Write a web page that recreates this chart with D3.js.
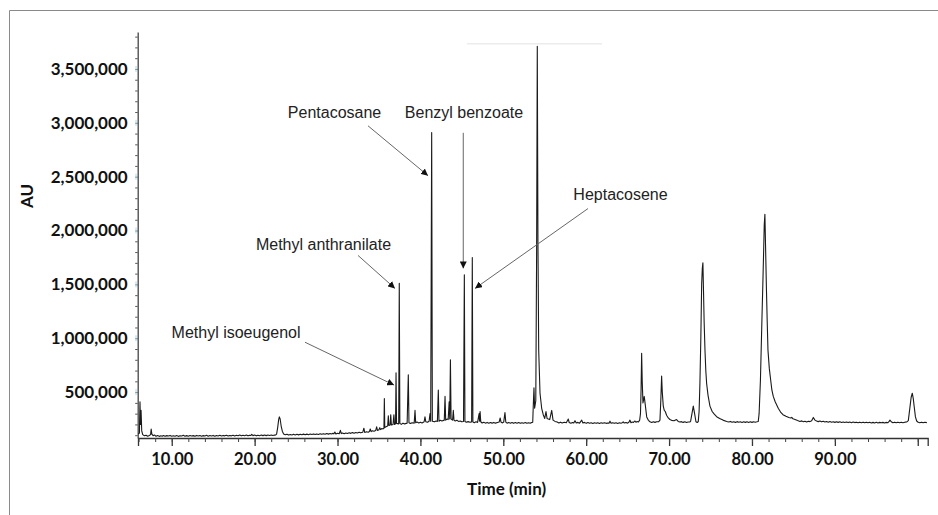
<!DOCTYPE html>
<html>
<head>
<meta charset="utf-8">
<script src="https://d3js.org/d3.v7.min.js"></script>
<style>
  body { margin: 0; background: #fff; }
  svg { display: block; }
</style>
</head>
<body>
<script>
// chromatogram trace: [time (min), AU]
var trace = [
  [5.95, 110000], [6.1, 120000], [6.17, 410000], [6.23, 200000], [6.3, 330000], [6.38, 140000],
  [6.5, 105000], [6.7, 95000], [6.9, 100000], [7.1, 91000], [7.3, 97000], [7.45, 105000],
  [7.52, 158000], [7.6, 110000], [7.75, 96000], [7.95, 101000], [8.1, 90000], [8.3, 97000],
  [8.5, 89000], [8.7, 95000], [8.85, 91000], [9.0, 97000], [9.2, 90000], [9.4, 96000],
  [9.6, 92000], [9.8, 98000], [10.0, 90000], [10.2, 95000], [10.4, 91000], [10.6, 97000],
  [10.8, 89000], [11.0, 95000], [11.2, 92000], [11.4, 99000], [11.6, 91000], [11.8, 96000],
  [12.0, 90000], [12.2, 97000], [12.4, 92000], [12.6, 96000], [12.8, 90000], [13.0, 98000],
  [13.2, 92000], [13.4, 97000], [13.6, 91000], [13.8, 96000], [14.0, 93000], [14.2, 99000],
  [14.4, 91000], [14.6, 97000], [14.8, 92000], [15.0, 98000], [15.2, 91000], [15.4, 97000],
  [15.6, 93000], [15.8, 99000], [16.0, 92000], [16.2, 98000], [16.4, 94000], [16.6, 100000],
  [16.8, 92000], [17.0, 98000], [17.2, 94000], [17.4, 100000], [17.6, 93000], [17.8, 99000],
  [18.0, 95000], [18.2, 101000], [18.4, 94000], [18.6, 99000], [18.8, 95000], [19.0, 101000],
  [19.2, 94000], [19.4, 100000], [19.55, 97000], [19.65, 108000], [19.8, 96000], [20.0, 101000],
  [20.2, 94000], [20.4, 100000], [20.6, 95000], [20.8, 101000], [21.0, 96000], [21.2, 102000],
  [21.4, 96000], [21.6, 101000], [21.8, 97000], [22.0, 102000], [22.2, 97000], [22.4, 101000],
  [22.55, 103000], [22.65, 110000], [22.78, 170000], [22.9, 245000], [22.98, 270000], [23.08, 250000],
  [23.2, 185000], [23.35, 135000], [23.5, 112000], [23.7, 104000], [23.9, 109000], [24.1, 101000],
  [24.3, 107000], [24.5, 102000], [24.7, 108000], [24.9, 102000], [25.1, 108000], [25.3, 103000],
  [25.5, 109000], [25.7, 104000], [25.9, 110000], [26.1, 104000], [26.3, 110000], [26.5, 105000],
  [26.7, 111000], [26.9, 106000], [27.1, 112000], [27.3, 106000], [27.5, 112000], [27.7, 107000],
  [27.9, 113000], [28.1, 108000], [28.3, 114000], [28.5, 109000], [28.7, 116000], [28.9, 110000],
  [29.1, 116000], [29.3, 111000], [29.45, 118000], [29.55, 112000], [29.68, 130000], [29.8, 112000],
  [30.0, 118000], [30.2, 113000], [30.35, 145000], [30.45, 115000], [30.6, 120000], [30.8, 114000],
  [31.0, 121000], [31.2, 116000], [31.4, 122000], [31.6, 117000], [31.8, 124000], [32.0, 118000],
  [32.2, 125000], [32.4, 120000], [32.6, 127000], [32.8, 122000], [33.05, 128000], [33.18, 165000],
  [33.28, 126000], [33.5, 132000], [33.7, 128000], [33.85, 135000], [33.95, 158000], [34.05, 133000],
  [34.2, 141000], [34.4, 136000], [34.6, 143000], [34.72, 178000], [34.82, 144000], [35.0, 150000],
  [35.1, 170000], [35.2, 152000], [35.35, 162000], [35.5, 158000], [35.6, 165000], [35.65, 440000],
  [35.7, 170000], [35.9, 180000], [36.05, 185000], [36.13, 280000], [36.2, 190000], [36.35, 195000],
  [36.42, 290000], [36.5, 195000], [36.7, 200000], [36.8, 290000], [36.88, 200000], [37.0, 205000],
  [37.06, 680000], [37.12, 210000], [37.38, 205000], [37.45, 1510000], [37.52, 210000], [37.7, 200000],
  [37.9, 212000], [38.1, 205000], [38.4, 212000], [38.54, 660000], [38.62, 215000], [38.8, 208000],
  [39.0, 216000], [39.25, 212000], [39.35, 330000], [39.43, 215000], [39.6, 222000], [39.8, 214000],
  [40.0, 220000], [40.2, 214000], [40.45, 225000], [40.55, 270000], [40.65, 225000], [40.85, 220000],
  [41.05, 230000], [41.16, 300000], [41.24, 230000], [41.36, 2910000], [41.44, 230000], [41.7, 224000],
  [41.9, 232000], [42.05, 228000], [42.16, 520000], [42.24, 230000], [42.4, 238000], [42.6, 232000],
  [42.88, 240000], [42.97, 460000], [43.05, 240000], [43.2, 250000], [43.35, 245000], [43.47, 410000],
  [43.54, 250000], [43.62, 800000], [43.7, 250000], [43.88, 240000], [43.97, 330000], [44.05, 240000],
  [44.2, 232000], [44.4, 238000], [44.6, 228000], [44.8, 232000], [45.0, 224000], [45.2, 228000],
  [45.3, 1590000], [45.37, 228000], [45.55, 220000], [45.75, 226000], [46.0, 221000], [46.18, 224000],
  [46.26, 1750000], [46.33, 222000], [46.5, 216000], [46.7, 224000], [46.9, 219000], [47.08, 300000],
  [47.14, 230000], [47.2, 320000], [47.28, 225000], [47.45, 213000], [47.65, 220000], [47.85, 212000],
  [48.05, 219000], [48.25, 211000], [48.45, 218000], [48.65, 212000], [48.85, 219000], [49.05, 212000],
  [49.3, 218000], [49.5, 222000], [49.62, 260000], [49.72, 222000], [49.9, 214000], [50.05, 222000],
  [50.2, 310000], [50.3, 222000], [50.45, 212000], [50.65, 219000], [50.85, 211000], [51.05, 218000],
  [51.25, 210000], [51.45, 217000], [51.65, 211000], [51.85, 218000], [52.05, 210000], [52.25, 216000],
  [52.45, 211000], [52.65, 217000], [52.85, 210000], [53.05, 216000], [53.25, 211000], [53.4, 217000],
  [53.55, 220000], [53.62, 380000], [53.7, 540000], [53.78, 350000], [53.92, 420000], [54.02, 1800000],
  [54.1, 3710000], [54.18, 1900000], [54.27, 890000], [54.43, 490000], [54.63, 350000], [54.82, 290000],
  [55.0, 255000], [55.15, 320000], [55.28, 255000], [55.43, 250000], [55.6, 245000], [55.84, 330000],
  [56.0, 240000], [56.24, 228000], [56.5, 222000], [56.7, 214000], [56.9, 221000], [57.1, 213000],
  [57.35, 220000], [57.6, 216000], [57.84, 250000], [57.95, 218000], [58.15, 211000], [58.35, 218000],
  [58.5, 213000], [58.65, 235000], [58.8, 214000], [59.0, 219000], [59.2, 212000], [59.46, 240000],
  [59.6, 214000], [59.8, 219000], [60.0, 210000], [60.2, 217000], [60.4, 211000], [60.6, 216000],
  [60.8, 209000], [61.0, 215000], [61.2, 210000], [61.4, 216000], [61.6, 209000], [61.8, 215000],
  [62.0, 210000], [62.2, 216000], [62.4, 210000], [62.6, 214000], [62.75, 212000], [62.87, 230000],
  [63.0, 211000], [63.2, 216000], [63.4, 210000], [63.6, 215000], [63.8, 209000], [64.0, 215000],
  [64.2, 211000], [64.35, 216000], [64.47, 224000], [64.6, 213000], [64.8, 218000], [65.0, 212000],
  [65.15, 220000], [65.28, 240000], [65.4, 216000], [65.55, 222000], [65.7, 218000], [65.88, 232000],
  [66.0, 220000], [66.15, 227000], [66.3, 222000], [66.45, 240000], [66.55, 300000], [66.62, 520000],
  [66.69, 860000], [66.76, 600000], [66.85, 400000], [66.93, 430000], [67.0, 460000], [67.1, 400000],
  [67.3, 270000], [67.5, 238000], [67.7, 225000], [67.9, 218000], [68.1, 225000], [68.3, 219000],
  [68.5, 225000], [68.75, 226000], [68.9, 240000], [69.0, 420000], [69.1, 650000], [69.18, 500000],
  [69.3, 370000], [69.42, 330000], [69.54, 320000], [69.7, 285000], [69.9, 260000], [70.1, 246000],
  [70.3, 238000], [70.6, 234000], [70.9, 245000], [71.1, 228000], [71.3, 222000], [71.5, 226000],
  [71.7, 219000], [71.9, 225000], [72.1, 218000], [72.3, 223000], [72.5, 222000], [72.6, 230000],
  [72.76, 300000], [72.92, 370000], [73.08, 300000], [73.24, 225000], [73.4, 218000], [73.52, 226000],
  [73.62, 320000], [73.72, 580000], [73.83, 1000000], [73.93, 1500000], [74.01, 1650000], [74.08, 1700000],
  [74.15, 1450000], [74.23, 1150000], [74.33, 890000], [74.43, 700000], [74.53, 580000], [74.7, 470000],
  [74.93, 370000], [75.2, 320000], [75.45, 295000], [75.74, 272000], [76.1, 255000], [76.5, 240000],
  [76.95, 228000], [77.2, 222000], [77.4, 228000], [77.6, 220000], [77.8, 225000], [78.0, 219000],
  [78.2, 226000], [78.4, 220000], [78.6, 224000], [78.8, 218000], [79.0, 225000], [79.2, 219000],
  [79.4, 224000], [79.6, 218000], [79.8, 224000], [80.0, 219000], [80.2, 225000], [80.4, 220000],
  [80.6, 224000], [80.76, 228000], [80.86, 300000], [81.02, 610000], [81.2, 1170000], [81.31, 1500000],
  [81.38, 1720000], [81.48, 2050000], [81.56, 2150000], [81.64, 1850000], [81.75, 1440000], [81.84, 1150000],
  [81.93, 890000], [82.09, 720000], [82.26, 610000], [82.4, 520000], [82.57, 460000], [82.8, 410000],
  [83.17, 350000], [83.45, 315000], [83.74, 290000], [84.1, 275000], [84.45, 265000], [84.7, 260000],
  [84.8, 266000], [84.95, 252000], [85.2, 245000], [85.5, 236000], [85.79, 228000], [86.0, 233000],
  [86.2, 225000], [86.4, 230000], [86.6, 223000], [86.8, 229000], [87.0, 226000], [87.2, 235000],
  [87.4, 265000], [87.6, 240000], [87.8, 232000], [88.0, 226000], [88.2, 231000], [88.4, 224000],
  [88.6, 229000], [88.8, 222000], [89.0, 227000], [89.2, 221000], [89.4, 227000], [89.6, 220000],
  [89.8, 225000], [90.0, 219000], [90.2, 225000], [90.4, 219000], [90.6, 224000], [90.8, 218000],
  [91.0, 223000], [91.2, 218000], [91.4, 223000], [91.6, 217000], [91.8, 222000], [92.0, 216000],
  [92.2, 222000], [92.4, 217000], [92.6, 221000], [92.8, 215000], [93.0, 221000], [93.2, 216000],
  [93.4, 221000], [93.6, 215000], [93.8, 220000], [94.0, 215000], [94.2, 220000], [94.4, 214000],
  [94.6, 219000], [94.8, 214000], [95.0, 220000], [95.2, 214000], [95.4, 219000], [95.6, 215000],
  [95.8, 219000], [96.0, 214000], [96.2, 219000], [96.4, 216000], [96.55, 228000], [96.65, 240000],
  [96.8, 225000], [97.0, 216000], [97.2, 221000], [97.4, 215000], [97.6, 220000], [97.8, 215000],
  [98.0, 220000], [98.2, 216000], [98.45, 221000], [98.65, 222000], [98.86, 235000], [99.06, 360000],
  [99.2, 450000], [99.34, 490000], [99.46, 440000], [99.58, 360000], [99.72, 270000], [99.87, 232000],
  [100.05, 220000], [100.25, 216000], [100.45, 221000], [100.65, 215000], [100.85, 220000], [101.1, 217000]
];

// axis ticks
var xMajor = [10, 20, 30, 40, 50, 60, 70, 80, 90, 100];
var xLabels = ["10.00", "20.00", "30.00", "40.00", "50.00", "60.00", "70.00", "80.00", "90.00", ""];
var xMinor = d3.range(6, 101, 2);
var yMajor = [500000, 1000000, 1500000, 2000000, 2500000, 3000000, 3500000];
var yMinor = d3.range(100000, 3850000, 100000);

// compound labels: text anchor and arrow (from -> to), in data units
var compounds = [
  { name: "Pentacosane",         tx: 29.64, ty: 3040000, from: [33.68, 2972000], to: [40.92, 2509000] },
  { name: "Benzyl benzoate",     tx: 45.26, ty: 3040000, from: [45.17, 2907000], to: [45.17, 1648000] },
  { name: "Heptacosene",         tx: 64.14, ty: 2280000, from: [60.22, 2204000], to: [46.59, 1463000] },
  { name: "Methyl anthranilate", tx: 28.31, ty: 1820000, from: [32.47, 1769000], to: [36.93, 1463000] },
  { name: "Methyl isoeugenol",   tx: 17.76, ty: 1000000, from: [26.08, 963000],  to: [36.82, 565000] }
];

var width = 938, height = 515;

var x = d3.scaleLinear().domain([5.93, 101.2]).range([138, 927.7]);
var y = d3.scaleLinear().domain([74000, 3843000]).range([438, 32]);

var svg = d3.select("body").append("svg")
    .attr("width", width)
    .attr("height", height);

// outer frame (top and left edges visible)
svg.append("path")
    .attr("d", "M9.5,515V10.5H938")
    .attr("fill", "none")
    .attr("stroke", "#8a8a8a")
    .attr("stroke-width", 1);

// faint line near top of the big peak
svg.append("line")
    .attr("x1", x(45.6)).attr("x2", x(61.9))
    .attr("y1", y(3734000)).attr("y2", y(3734000))
    .attr("stroke", "#ececec")
    .attr("stroke-width", 1.5);

svg.append("defs").append("marker")
    .attr("id", "arrow")
    .attr("viewBox", "0 0 10 10")
    .attr("refX", 10).attr("refY", 5)
    .attr("markerWidth", 7).attr("markerHeight", 7)
    .attr("markerUnits", "userSpaceOnUse")
    .attr("orient", "auto")
    .append("path")
    .attr("d", "M0,0L10,5L0,10Z")
    .attr("fill", "#111");

// x axis
var xAxis = svg.append("g")
    .attr("transform", "translate(0,438)")
    .call(d3.axisBottom(x).tickValues(xMajor).tickSize(8).tickPadding(7)
        .tickFormat(function(d, i) { return xLabels[i]; }));
xAxis.select(".domain").attr("stroke", "#333").attr("stroke-width", 1.3);
xAxis.selectAll(".tick line").attr("stroke", "#333").attr("stroke-width", 1.3);
xAxis.selectAll("text")
    .attr("fill", "#111")
    .style("font-family", "Lato, 'Open Sans', sans-serif")
    .style("font-weight", "bold")
    .style("font-size", "16.5px");

var xMinorAxis = svg.append("g")
    .attr("transform", "translate(0,438)")
    .call(d3.axisBottom(x).tickValues(xMinor).tickSize(4).tickFormat(""));
xMinorAxis.select(".domain").remove();
xMinorAxis.selectAll(".tick line").attr("stroke", "#444");

// y axis
var yAxis = svg.append("g")
    .attr("transform", "translate(137.7,0)")
    .call(d3.axisLeft(y).tickValues(yMajor).tickSize(0).tickPadding(10)
        .tickFormat(d3.format(",")));
yAxis.select(".domain").attr("stroke", "#444").attr("stroke-width", 1.3);
yAxis.selectAll("text")
    .attr("fill", "#111")
    .style("font-family", "Lato, 'Open Sans', sans-serif")
    .style("font-weight", "bold")
    .style("font-size", "17px");

var yMinorAxis = svg.append("g")
    .attr("transform", "translate(137.7,0)")
    .call(d3.axisLeft(y).tickValues(yMinor).tickSize(2.5).tickFormat(""));
yMinorAxis.select(".domain").remove();
yMinorAxis.selectAll(".tick line").attr("stroke", "#555");

// small light blue marks at the labelled ticks
svg.append("g").selectAll("line")
    .data(yMajor)
    .enter().append("line")
    .attr("x1", 136).attr("x2", 136)
    .attr("y1", function(d) { return y(d) - 3; })
    .attr("y2", function(d) { return y(d) + 3; })
    .attr("stroke", "#a9d8ec")
    .attr("stroke-width", 1);

// axis titles
svg.append("text")
    .attr("transform", "translate(33," + y(2320000) + ") rotate(-90)")
    .attr("text-anchor", "middle")
    .style("font-family", "Lato, 'Open Sans', sans-serif")
    .style("font-weight", "bold")
    .style("font-size", "17px")
    .attr("fill", "#111")
    .text("AU");

svg.append("text")
    .attr("x", x(50.4))
    .attr("y", 495)
    .attr("text-anchor", "middle")
    .style("font-family", "Lato, 'Open Sans', sans-serif")
    .style("font-weight", "bold")
    .style("font-size", "17px")
    .attr("fill", "#111")
    .text("Time (min)");

// signal
var line = d3.line()
    .x(function(d) { return x(d[0]); })
    .y(function(d) { return y(d[1]); });

svg.append("path")
    .datum(trace)
    .attr("d", line)
    .attr("fill", "none")
    .attr("stroke", "#1a1a1a")
    .attr("stroke-width", 1.1)
    .attr("stroke-linejoin", "round");

// annotations
var ann = svg.append("g");
ann.selectAll("line")
    .data(compounds)
    .enter().append("line")
    .attr("x1", function(d) { return x(d.from[0]); })
    .attr("y1", function(d) { return y(d.from[1]); })
    .attr("x2", function(d) { return x(d.to[0]); })
    .attr("y2", function(d) { return y(d.to[1]); })
    .attr("stroke", "#666")
    .attr("stroke-width", 1)
    .attr("marker-end", "url(#arrow)");

ann.selectAll("text")
    .data(compounds)
    .enter().append("text")
    .attr("x", function(d) { return x(d.tx); })
    .attr("y", function(d) { return y(d.ty); })
    .attr("text-anchor", "middle")
    .style("font-family", "'Liberation Sans', Arial, sans-serif")
    .style("font-size", "16px")
    .attr("fill", "#222")
    .text(function(d) { return d.name; });
</script>
</body>
</html>
